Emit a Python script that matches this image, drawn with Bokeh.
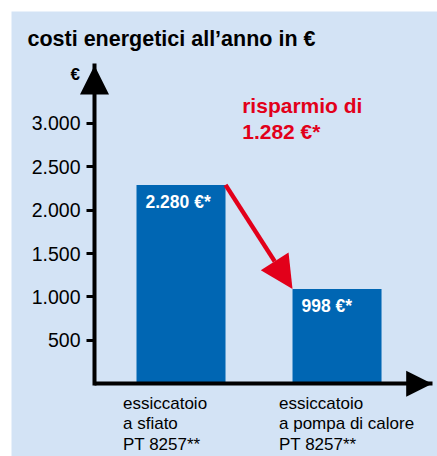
from bokeh.plotting import figure
from bokeh.models import (Range1d, LinearAxis, FixedTicker, Arrow, NormalHead,
                          Label, LabelSet, ColumnDataSource)
from bokeh.core.properties import value
from bokeh.embed import file_html
from bokeh.resources import INLINE

# ---- data ----
categories = ["essiccatoio\na sfiato\nPT 8257**",
              "essiccatoio\na pompa di calore\nPT 8257**"]
costs = [2290, 1090]                 # bar heights as drawn (euro)
cost_labels = ["2.280 €*", "998 €*"]
tick_values = [500, 1000, 1500, 2000, 2500, 3000]
tick_labels = ["500", "1.000", "1.500", "2.000", "2.500", "3.000"]
title_text = "costi energetici all’anno in €"
unit_text = "€"
saving_lines = ["risparmio di", "1.282 €*"]

# ---- style ----
BG = "#d3e3f5"
BLUE = "#0066b3"
RED = "#e2001a"
FONT = "Liberation Sans"
BAR_W = 0.5705
X_AXIS_AT = -0.5545      # x position of the value axis
X_TIP = 1.61             # end of the category axis arrow
Y_TIP = 3664             # end of the value axis arrow

xs = list(range(len(categories)))
cat_lines = [c.split("\n") for c in categories]
n_lines = max(len(l) for l in cat_lines)
cols = dict(x=xs, top=costs, lab=cost_labels, zero=[0] * len(xs))
for k in range(n_lines):
    cols[f"l{k}"] = [l[k] if k < len(l) else "" for l in cat_lines]
src = ColumnDataSource(cols)

p = figure(width=426, height=445, output_backend="svg", toolbar_location=None,
           title=None, x_range=Range1d(-1.0865, 1.644), y_range=Range1d(-837, 4286),
           x_axis_type=None, y_axis_type=None,
           min_border_left=0, min_border_right=0, min_border_top=0,
           min_border_bottom=0, margin=(11, 0, 0, 11))
p.background_fill_color = BG
p.border_fill_color = BG
p.outline_line_color = None

# y axis
yax = LinearAxis(ticker=FixedTicker(ticks=tick_values), fixed_location=X_AXIS_AT,
                 bounds=(0, Y_TIP),
                 major_label_overrides=dict(zip(tick_values, tick_labels)))
yax.axis_line_width = 4
yax.axis_line_color = "black"
yax.axis_line_cap = "square"
yax.major_tick_out = 8
yax.major_tick_in = 0
yax.major_tick_line_width = 3
yax.minor_tick_line_color = None
yax.major_label_standoff = 6
yax.major_label_text_font = FONT
yax.major_label_text_font_size = "19.5px"
yax.major_label_text_color = "black"
p.add_layout(yax, "left")

# x axis (line only)
xax = LinearAxis(ticker=FixedTicker(ticks=[]), fixed_location=0, bounds=(X_AXIS_AT, X_TIP))
xax.axis_line_width = 4
xax.axis_line_color = "black"
xax.major_tick_line_color = None
xax.minor_tick_line_color = None
xax.major_label_text_font_size = "0px"
p.add_layout(xax, "below")

# bars
p.vbar(x="x", top="top", bottom=0, width=BAR_W, source=src, color=BLUE, line_color=None)

# value labels inside bars
p.text(x="x", y="top", text="lab", source=src, x_offset=-35.5, y_offset=17.2,
       text_font=value(FONT), text_font_style="bold", text_font_size="17.5px",
       text_color="white", text_align="left", text_baseline="middle")

# axis arrow heads
p.add_layout(Arrow(x_start=X_AXIS_AT, y_start=Y_TIP * 0.9, x_end=X_AXIS_AT, y_end=Y_TIP,
                   line_alpha=0,
                   end=NormalHead(size=29, fill_color="black", line_color=None)))
p.add_layout(Arrow(x_start=X_TIP - 0.2, y_start=0, x_end=X_TIP, y_end=0, line_alpha=0,
                   end=NormalHead(size=26, fill_color="black", line_color=None)))

# red saving arrow: from top-right corner of bar 1 to top-left corner of bar 2
p.add_layout(Arrow(x_start=xs[0] + BAR_W / 2, y_start=costs[0],
                   x_end=xs[1] - BAR_W / 2, y_end=costs[1],
                   line_color=RED, line_width=4.5,
                   end=NormalHead(size=33, fill_color=RED, line_color=None)))

# category labels, one line at a time
for k in range(n_lines):
    p.add_layout(LabelSet(x="x", y="zero", text=f"l{k}", source=src, x_offset=-58,
                          y_offset=-(19.7 + 20.5 * k),
                          text_font=value(FONT), text_font_size="17px", text_color="black",
                          text_align="left", text_baseline="middle"))

# texts
p.add_layout(Label(x=16, y=417.4, x_units="screen", y_units="screen", text=title_text,
                   text_font=FONT, text_font_style="bold", text_font_size="21.5px",
                   text_color="black", text_baseline="middle"))
p.add_layout(Label(x=68.5, y=382, x_units="screen", y_units="screen", text=unit_text,
                   text_font=FONT, text_font_style="bold", text_font_size="17px",
                   text_color="black", text_align="right", text_baseline="middle"))
for i, line in enumerate(saving_lines):
    p.add_layout(Label(x=230.7, y=350.6 - 25.7 * i, x_units="screen", y_units="screen",
                       text=line, text_font=FONT, text_font_style="bold",
                       text_font_size="21px", text_color=RED, text_baseline="middle"))

open("out.html", "w").write(file_html(p, INLINE))
